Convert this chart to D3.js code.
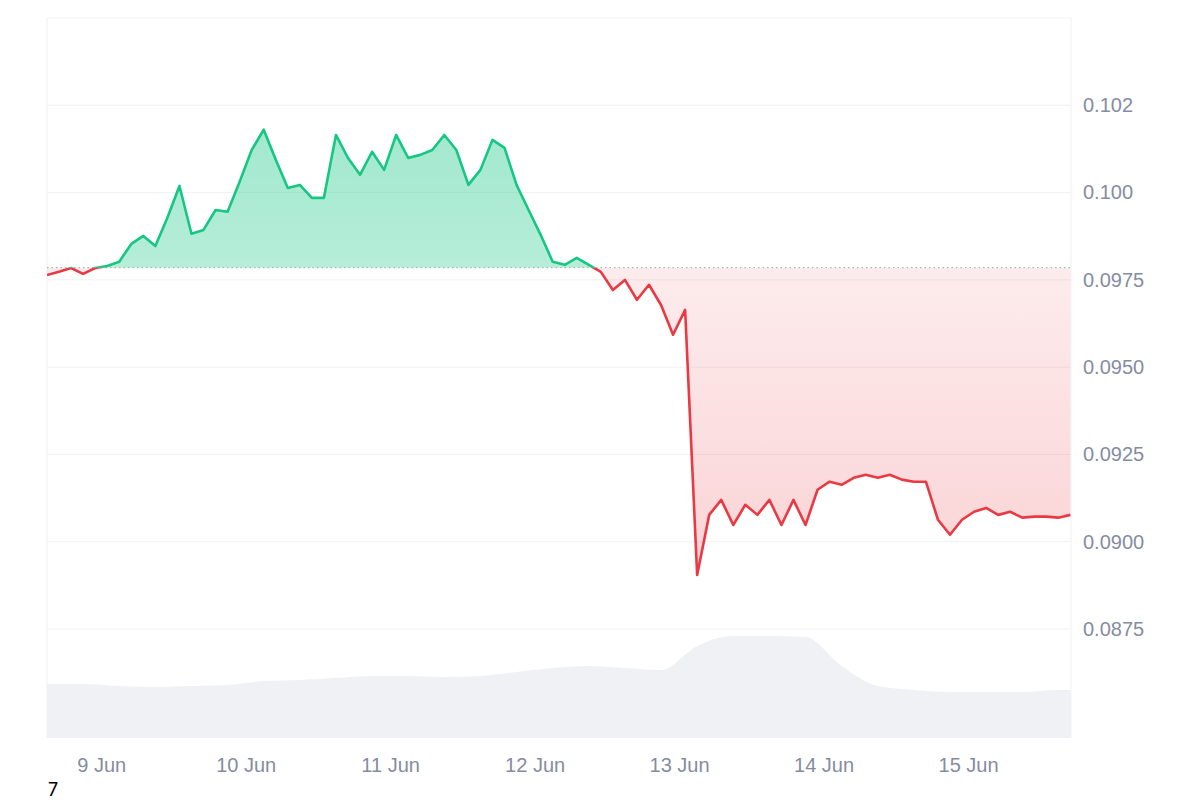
<!DOCTYPE html>
<html><head><meta charset="utf-8">
<script src="https://cdn.jsdelivr.net/npm/d3@7"></script>
<style>body{margin:0;background:#fff}svg{font-family:Inter,"Noto Sans",sans-serif}</style>
</head><body><svg id="c" width="1200" height="800"></svg>
<script>
const startTime = "2024-06-08T15:00";
const stepHours = 2;
const prices = [0.09764,0.09773,0.09784,0.09767,0.09784,0.09790,0.09802,0.09853,0.09876,0.09847,0.09928,0.10019,0.09882,0.09893,0.09950,0.09945,0.10031,0.10122,0.10180,0.10094,0.10013,0.10022,0.09985,0.09985,0.10165,0.10099,0.10051,0.10117,0.10065,0.10165,0.10099,0.10108,0.10122,0.10165,0.10122,0.10022,0.10065,0.10151,0.10128,0.10022,0.09950,0.09879,0.09802,0.09793,0.09813,0.09793,0.09773,0.09721,0.09750,0.09693,0.09736,0.09678,0.09593,0.09664,0.08905,0.09077,0.09120,0.09048,0.09106,0.09077,0.09120,0.09048,0.09120,0.09048,0.09149,0.09172,0.09163,0.09183,0.09192,0.09183,0.09192,0.09178,0.09172,0.09172,0.09063,0.09020,0.09063,0.09086,0.09097,0.09077,0.09086,0.09069,0.09072,0.09072,0.09069,0.09077];
const baseline = 0.09785;
const volStepHours = 6;
const volumes = [54,54,52,51,52,53,57,58,60,62,62,61,62,66,70,72,70,68,92,102,102,101,72,52,48,46,46,46,48,48];
const yTicks = [0.0875,0.0900,0.0925,0.0950,0.0975,0.1000,0.1025];
const yTickLabels = ["0.0875","0.0900","0.0925","0.0950","0.0975","0.100","0.102"];
const xTicks = ["2024-06-09","2024-06-10","2024-06-11","2024-06-12","2024-06-13","2024-06-14","2024-06-15"];
const xTickLabels = ["9 Jun","10 Jun","11 Jun","12 Jun","13 Jun","14 Jun","15 Jun"];

const svg = d3.select("#c");
const L=47,R=1071,T=18,B=738;
const t0 = new Date(startTime);
const pts = prices.map((p,i)=>({t:new Date(+t0+i*stepHours*3600e3),p}));
const x = d3.scaleTime().domain([t0, new Date(+t0+170.1*3600e3)]).range([L,R]);
const y = d3.scaleLinear().domain([0.08438,0.1050]).range([B,T]);
const vy = d3.scaleLinear().domain([0,100]).range([B,B-100]);
const vpts = volumes.map((v,i)=>({t:new Date(+t0+i*volStepHours*3600e3),v}));

const defs = svg.append("defs");
const gG = defs.append("linearGradient").attr("id","gg").attr("x1",0).attr("x2",0).attr("y1",0).attr("y2",1);
gG.append("stop").attr("offset","0%").attr("stop-color","#16c784").attr("stop-opacity",0.4);
gG.append("stop").attr("offset","100%").attr("stop-color","#16c784").attr("stop-opacity",0.12);
const gR = defs.append("linearGradient").attr("id","gr").attr("x1",0).attr("x2",0).attr("y1",0).attr("y2",1);
gR.append("stop").attr("offset","0%").attr("stop-color","#ea3943").attr("stop-opacity",0.04);
gR.append("stop").attr("offset","100%").attr("stop-color","#ea3943").attr("stop-opacity",0.22);
defs.append("clipPath").attr("id","ca").append("rect").attr("x",L).attr("y",T).attr("width",R-L).attr("height",y(baseline)-T);
defs.append("clipPath").attr("id","cb").append("rect").attr("x",L).attr("y",y(baseline)).attr("width",R-L).attr("height",B-y(baseline));
defs.append("clipPath").attr("id","cp").append("rect").attr("x",L).attr("y",T).attr("width",R-L).attr("height",B-T);

svg.selectAll(".g").data(yTicks).join("line").attr("x1",L).attr("x2",R).attr("y1",d=>y(d)).attr("y2",d=>y(d)).attr("stroke","#eff1f4");
svg.append("line").attr("x1",L).attr("x2",R).attr("y1",T).attr("y2",T).attr("stroke","#eff1f4");
svg.append("line").attr("x1",L).attr("x2",L).attr("y1",T).attr("y2",B).attr("stroke","#eff1f4");
svg.append("line").attr("x1",R).attr("x2",R).attr("y1",T).attr("y2",B).attr("stroke","#eff1f4");

svg.append("path").datum(vpts).attr("fill","#eff1f4").attr("clip-path","url(#cp)")
 .attr("d",d3.area().x(d=>x(d.t)).y0(B).y1(d=>vy(d.v)).curve(d3.curveMonotoneX));

const area = d3.area().x(d=>x(d.t)).y0(y(baseline)).y1(d=>y(d.p));
svg.append("path").datum(pts).attr("clip-path","url(#ca)").attr("fill","url(#gg)").attr("d",area);
svg.append("path").datum(pts).attr("clip-path","url(#cb)").attr("fill","url(#gr)").attr("d",area);
svg.append("line").attr("x1",L).attr("x2",R).attr("y1",y(baseline)).attr("y2",y(baseline))
 .attr("stroke","#a0a4b0").attr("stroke-dasharray","1.5,3");
const line = d3.line().x(d=>x(d.t)).y(d=>y(d.p));
svg.append("path").datum(pts).attr("clip-path","url(#ca)").attr("fill","none").attr("stroke","#16c784").attr("stroke-width",2.6).attr("stroke-linejoin","round").attr("d",line);
svg.append("path").datum(pts).attr("clip-path","url(#cb)").attr("fill","none").attr("stroke","#ea3943").attr("stroke-width",2.6).attr("stroke-linejoin","round").attr("d",line);

const ya = svg.append("g").attr("transform",`translate(${R},0)`)
 .call(d3.axisRight(y).tickValues(yTicks).tickSize(0).tickPadding(12).tickFormat((d,i)=>yTickLabels[i]));
ya.select(".domain").remove();
ya.selectAll("text").attr("fill","#858ca2").attr("font-size",20);
const xa = svg.append("g").attr("transform",`translate(0,${B})`)
 .call(d3.axisBottom(x).tickValues(xTicks.map(s=>new Date(s+"T00:00"))).tickSize(0).tickPadding(20).tickFormat((d,i)=>xTickLabels[i]));
xa.select(".domain").remove();
xa.selectAll("text").attr("fill","#858ca2").attr("font-size",20);
svg.append("text").attr("x",48).attr("y",796).attr("font-size",18).attr("fill","#000").text("7");
</script></body></html>
